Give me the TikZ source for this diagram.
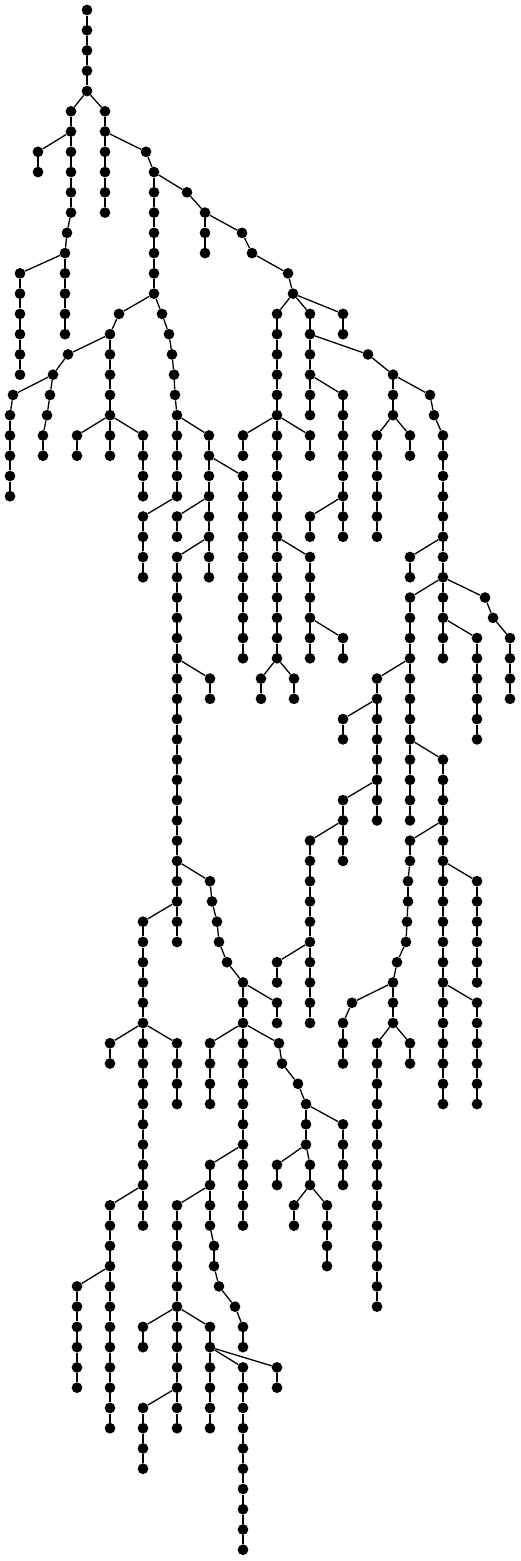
\documentclass[tikz,border=0pt]{standalone}
\usepackage{tikz}

\tikzset{bola/.style={circle, fill=black, inner sep=0pt, minimum size=10.7pt},
  aresta/.style={line width=1.3pt}}

% ramo vertical: x, nivel inicial, nivel final, no pai
\newcommand{\ramo}[4]{%
  \foreach \nv [remember=\nv as \nvant (initially #2)] in {#2,...,#3}{%
    \node[bola] (p#1-\nv) at (#1,\nv) {};
    \ifnum\nv>#2 \draw[aresta] (p#1-\nvant) -- (p#1-\nv);\fi
  }
  \draw[aresta] (#4) -- (p#1-#2);
}

\begin{document}
\begin{tikzpicture}[x=1pt, y=-20.26pt]
\useasboundingbox (0,-0.4936) rectangle (520,76.555);
% tronco e lado esquerdo do topo
\node[bola] (p87-0) at (87,0) {};
\ramo{87}{1}{4}{p87-0}
\ramo{71}{5}{10}{p87-4}
\ramo{38}{7}{8}{p71-6}
\ramo{67}{11}{11}{p71-10}
\ramo{65}{12}{16}{p67-11}
\ramo{20}{13}{18}{p65-12}
\ramo{105}{5}{10}{p87-4}
\ramo{146}{7}{7}{p105-6}
\ramo{154}{8}{14}{p146-7}
\ramo{187}{9}{9}{p154-8}
\ramo{205}{10}{12}{p187-9}
\ramo{242}{11}{11}{p205-10}
\ramo{252}{12}{12}{p242-11}
\ramo{288}{13}{13}{p252-12}
\ramo{293}{14}{14}{p288-13}

% lado direito
\ramo{277}{15}{32}{p293-14}
\ramo{310}{15}{20}{p293-14}
\ramo{343}{15}{16}{p293-14}
\ramo{368}{17}{17}{p310-16}
\ramo{393}{18}{20}{p368-17}
\ramo{430}{19}{19}{p393-18}
\ramo{434}{20}{20}{p430-19}
\ramo{443}{21}{32}{p434-20}
\ramo{377}{21}{26}{p393-20}
\ramo{410}{21}{22}{p393-20}
\ramo{343}{19}{26}{p310-18}
\ramo{310}{25}{26}{p343-24}
\ramo{243}{21}{22}{p277-20}
\ramo{310}{21}{22}{p277-20}
\ramo{310}{27}{32}{p277-26}
\ramo{343}{31}{32}{p310-30}
\ramo{261}{33}{34}{p277-32}
\ramo{294}{33}{34}{p277-32}
\ramo{410}{27}{28}{p443-26}
\ramo{410}{29}{40}{p443-28}
\ramo{485}{29}{29}{p443-28}
\ramo{493}{30}{30}{p485-29}
\ramo{510}{31}{34}{p493-30}
\ramo{477}{31}{36}{p443-30}
\ramo{377}{33}{40}{p410-32}
\ramo{343}{35}{36}{p377-34}
\ramo{343}{39}{42}{p377-38}
\ramo{310}{41}{50}{p343-40}
\ramo{277}{47}{48}{p310-46}
\ramo{443}{37}{54}{p410-36}
\ramo{410}{41}{42}{p443-40}
\ramo{408}{43}{44}{p410-42}
\ramo{407}{45}{45}{p408-44}
\ramo{406}{46}{46}{p407-45}
\ramo{397}{47}{47}{p406-46}
\ramo{393}{48}{50}{p397-47}
\ramo{352}{49}{49}{p393-48}
\ramo{343}{50}{52}{p352-49}
\ramo{410}{51}{52}{p393-50}
\ramo{377}{51}{64}{p393-50}
\ramo{477}{43}{48}{p443-42}
\ramo{477}{49}{54}{p443-48}

% lado esquerdo do meio
\ramo{119}{15}{15}{p154-14}
\ramo{110}{16}{22}{p119-15}
\ramo{68}{17}{17}{p110-16}
\ramo{53}{18}{18}{p68-17}
\ramo{13}{19}{19}{p53-18}
\ramo{10}{20}{24}{p13-19}
\ramo{50}{19}{19}{p53-18}
\ramo{47}{20}{20}{p50-19}
\ramo{43}{21}{22}{p47-20}
\ramo{77}{21}{22}{p110-20}
\ramo{143}{21}{24}{p110-20}

% ramo central ate o fundo
\ramo{162}{15}{15}{p154-14}
\ramo{169}{16}{16}{p162-15}
\ramo{172}{17}{17}{p169-16}
\ramo{174}{18}{18}{p172-17}
\ramo{175}{19}{19}{p174-18}
\ramo{177}{20}{24}{p175-19}
\ramo{143}{25}{28}{p177-24}
\ramo{209}{21}{28}{p177-20}
\ramo{243}{23}{32}{p209-22}
\ramo{177}{25}{26}{p209-24}
\ramo{177}{27}{46}{p209-26}
\ramo{210}{33}{34}{p177-32}
\ramo{210}{43}{43}{p177-42}
\ramo{212}{44}{44}{p210-43}
\ramo{217}{45}{45}{p212-44}
\ramo{219}{46}{46}{p217-45}
\ramo{227}{47}{47}{p219-46}
\ramo{243}{48}{60}{p227-47}
\ramo{277}{49}{50}{p243-48}
\ramo{210}{51}{54}{p243-50}
\ramo{279}{51}{51}{p243-50}
\ramo{282}{52}{52}{p279-51}
\ramo{298}{53}{53}{p282-52}
\ramo{306}{54}{56}{p298-53}
\ramo{343}{55}{58}{p306-54}
\ramo{277}{57}{58}{p306-56}
\ramo{310}{57}{58}{p306-56}
\ramo{294}{59}{60}{p310-58}
\ramo{327}{59}{62}{p310-58}
\ramo{210}{57}{60}{p243-56}
\ramo{214}{61}{62}{p210-60}
\ramo{219}{63}{63}{p214-62}
\ramo{235}{64}{64}{p219-63}
\ramo{243}{65}{66}{p235-64}
\ramo{177}{59}{70}{p210-58}
\ramo{143}{65}{66}{p177-64}
\ramo{210}{65}{70}{p177-64}
\ramo{243}{67}{76}{p210-66}
\ramo{277}{67}{68}{p210-66}
\ramo{143}{69}{72}{p177-68}
\ramo{143}{45}{60}{p177-44}
\ramo{110}{51}{52}{p143-50}
\ramo{177}{51}{54}{p143-50}
\ramo{110}{59}{70}{p143-58}
\ramo{77}{63}{68}{p110-62}

\end{tikzpicture}
\end{document}
